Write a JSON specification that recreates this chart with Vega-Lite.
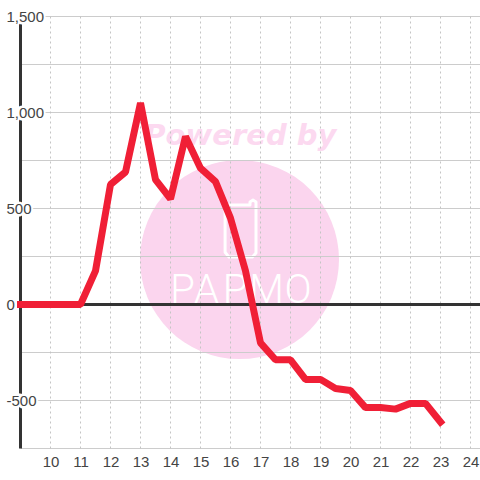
{
"$schema":"https://vega.github.io/schema/vega-lite/v6.json",
"width":459.5,"height":432,
"autosize":{"type":"none"},
"padding":{"left":20.5,"top":16.5,"right":0,"bottom":31.5},
"background":"white",
"config":{"view":{"stroke":null},"font":"Liberation Sans","axis":{"labelOverlap":false}},
"datasets":{
"series":[{"hour":9,"value":0},{"hour":9.5,"value":0},{"hour":10,"value":0},{"hour":10.5,"value":0},{"hour":11,"value":0},{"hour":11.5,"value":175},{"hour":12,"value":625},{"hour":12.5,"value":690},{"hour":13,"value":1050},{"hour":13.5,"value":650},{"hour":14,"value":550},{"hour":14.5,"value":875},{"hour":15,"value":710},{"hour":15.5,"value":640},{"hour":16,"value":450},{"hour":16.5,"value":175},{"hour":17,"value":-200},{"hour":17.5,"value":-288},{"hour":18,"value":-288},{"hour":18.5,"value":-390},{"hour":19,"value":-390},{"hour":19.5,"value":-438},{"hour":20,"value":-448},{"hour":20.5,"value":-537},{"hour":21,"value":-537},{"hour":21.5,"value":-545},{"hour":22,"value":-515},{"hour":22.5,"value":-515},{"hour":23,"value":-612}],
"yTicks":[{"v":-750},{"v":-500},{"v":-250},{"v":0},{"v":250},{"v":500},{"v":750},{"v":1000},{"v":1250},{"v":1500}],
"xTicks":[{"h":10},{"h":11},{"h":12},{"h":13},{"h":14},{"h":15},{"h":16},{"h":17},{"h":18},{"h":19},{"h":20},{"h":21},{"h":22},{"h":23},{"h":24}],
"labels":[{"v":-500,"t":"-500"},{"v":0,"t":"0"},{"v":500,"t":"500"},{"v":1000,"t":"1,000"},{"v":1500,"t":"1,500"}],
"glass":[{"o":1,"h":15.82,"v":518},{"o":2,"h":15.82,"v":272},{"o":3,"h":15.95,"v":247},{"o":4,"h":16.73,"v":247},{"o":5,"h":16.85,"v":268},{"o":6,"h":16.85,"v":534},{"o":7,"h":16.75,"v":544},{"o":8,"h":16.65,"v":534},{"o":9,"h":16.65,"v":518},{"o":10,"h":15.82,"v":518}],
"logo":[{"h":14.4,"v":70,"c":"P"},{"h":15.2,"v":70,"c":"A"},{"h":16.15,"v":70,"c":"P"},{"h":17.2,"v":70,"c":"M"},{"h":18.25,"v":70,"c":"O"}]
},
"layer":[
{"data":{"values":[{"h":16.3,"v":234}]},"mark":{"type":"point","filled":true,"shape":"circle","size":39600,"color":"#fbd5ee","opacity":1},
 "encoding":{"x":{"field":"h","type":"quantitative","scale":{"domain":[9,24.3167],"nice":false,"zero":false},"axis":{"title":null,"domain":false,"ticks":false,"grid":false,"tickCount":16,"labelFontSize":15,"labelColor":"#444444","labelPadding":6,"labelOverlap":false,"labelFlush":false,"labelBound":false,"format":"d","labelExpr":"datum.value<10?'':datum.label","zindex":1}},
 "y":{"field":"v","type":"quantitative","scale":{"domain":[-750,1500],"nice":false,"zero":false},"axis":{"title":null,"domain":false,"ticks":false,"grid":false,"values":[-500,0,500,1000,1500],"labelFontSize":15,"labelColor":"#444444","labelAlign":"left","labelPadding":14.5,"labelBound":false,"labelFlush":false,"labelOverlap":false,"labelExpr":"datum.value<0?'-500':datum.label","zindex":1}}}},
{"data":{"values":[{"h":16.33,"v":880,"t":"Powered by"}]},"mark":{"type":"text","font":"DejaVu Sans","fontWeight":"bold","fontStyle":"italic","fontSize":29,"color":"#fcd9f0","align":"center","baseline":"middle"},
 "encoding":{"x":{"field":"h","type":"quantitative"},"y":{"field":"v","type":"quantitative"},"text":{"field":"t"}}},
{"data":{"name":"glass"},"mark":{"type":"line","color":"white","strokeWidth":3,"strokeCap":"round","strokeJoin":"round"},
 "encoding":{"x":{"field":"h","type":"quantitative"},"y":{"field":"v","type":"quantitative"},"order":{"field":"o"}}},
{"data":{"name":"logo"},"mark":{"type":"text","font":"Roboto","fontWeight":300,"fontSize":40,"color":"white","align":"center","baseline":"middle"},
 "encoding":{"x":{"field":"h","type":"quantitative"},"y":{"field":"v","type":"quantitative"},"text":{"field":"c"}}},
{"data":{"name":"yTicks"},"mark":{"type":"rule","color":"#cccccc","strokeWidth":1},"encoding":{"y":{"field":"v","type":"quantitative"}}},
{"data":{"name":"xTicks"},"mark":{"type":"rule","color":"#c4c4c4","strokeWidth":1,"strokeDash":[2,3]},"encoding":{"x":{"field":"h","type":"quantitative"}}},
{"data":{"values":[{"v":0}]},"mark":{"type":"rule","color":"#333333","strokeWidth":3},"encoding":{"y":{"field":"v","type":"quantitative"}}},
{"data":{"values":[{"h":9}]},"mark":{"type":"rule","color":"#333333","strokeWidth":3},"encoding":{"x":{"field":"h","type":"quantitative"}}},
{"data":{"name":"labels"},"mark":{"type":"text","align":"left","baseline":"middle","dx":-14.5,"fontSize":15,"stroke":"white","strokeWidth":5,"color":"white"},
 "encoding":{"x":{"datum":9},"y":{"field":"v","type":"quantitative"},"text":{"field":"t"}}},
{"data":{"name":"series"},"mark":{"type":"line","color":"#f01f36","strokeWidth":7,"strokeCap":"square","strokeJoin":"bevel"},
 "encoding":{"x":{"field":"hour","type":"quantitative"},"y":{"field":"value","type":"quantitative"}}}
]
}
